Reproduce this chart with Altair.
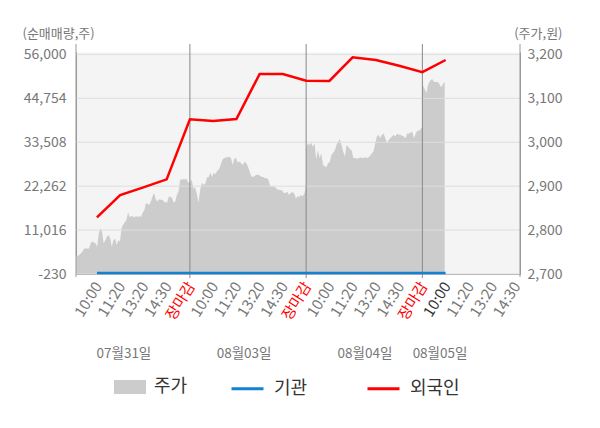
import json
import numpy as np
import pandas as pd
import altair as alt

FONT = "Noto Sans CJK KR"

# ---------------- data ----------------
x_labels = ["10:00", "11:20", "13:20", "14:30", "장마감",
            "10:00", "11:20", "13:20", "14:30", "장마감",
            "10:00", "11:20", "13:20", "14:30", "장마감",
            "10:00", "11:20", "13:20", "14:30"]
current_slot = 16
day_close_slots = [5, 10, 15]
dates = ["07월31일", "08월03일", "08월04일", "08월05일"]
date_slots = [2.16, 7.33, 12.53, 15.76]

left_ticks = [-230, 11016, 22262, 33508, 44754, 56000]
right_ticks = [2700, 2800, 2900, 3000, 3100, 3200]

flow_slots = [1, 2, 3, 4, 5, 6, 7, 8, 9, 10, 11, 12, 13, 14, 15, 16]
foreign = [14270, 19980, 21950, 24000, 39370, 38940, 39450, 50980,
           50980, 49260, 49190, 55260, 54570, 53100, 51450, 54570]
institution = [0, 0, 0, 0, 0, 0, 0, 0, 0, 0, 0, 0, 0, 0, 0, 0]

price_day1 = [2739, 2741, 2743, 2747, 2751, 2758, 2758, 2758, 2758, 2770, 2774, 2772,
              2770, 2762, 2793, 2804, 2796, 2770, 2777, 2785, 2789, 2781, 2762, 2777,
              2781, 2766, 2777, 2774, 2804, 2812, 2818, 2823, 2840, 2829, 2832, 2831,
              2829, 2832, 2829, 2832, 2830, 2840, 2846, 2861, 2860, 2857, 2865, 2876,
              2885, 2870, 2865, 2870, 2869, 2869, 2865, 2863, 2863, 2876, 2876, 2873,
              2863, 2865, 2880, 2888, 2914, 2916, 2916, 2916, 2916, 2907, 2912]
price_day2 = [2903, 2916, 2895, 2897, 2884, 2862, 2891, 2908, 2903, 2906, 2920, 2921,
              2931, 2921, 2931, 2927, 2935, 2938, 2948, 2960, 2964, 2965, 2966, 2967,
              2964, 2948, 2963, 2964, 2954, 2956, 2952, 2948, 2956, 2952, 2944, 2933,
              2922, 2921, 2924, 2926, 2926, 2924, 2921, 2921, 2918, 2918, 2914, 2900,
              2899, 2899, 2897, 2893, 2892, 2891, 2890, 2884, 2885, 2887, 2880, 2885,
              2886, 2884, 2872, 2877, 2876, 2880, 2877, 2884, 2899]
price_day3 = [2986, 2998, 2994, 2999, 2990, 2998, 2961, 2982, 2964, 2975, 2948, 2946,
              2943, 2952, 2955, 2971, 2976, 2982, 2994, 3001, 3007, 2994, 2979, 2967,
              2994, 2990, 2984, 2982, 2964, 2964, 2963, 2963, 2966, 2964, 2964, 2966,
              2964, 2966, 2969, 2975, 2979, 2998, 3013, 3017, 3009, 3017, 3020, 3009,
              2998, 3005, 3009, 3013, 3017, 3013, 3020, 3017, 3017, 3015, 3013, 3009,
              3020, 3020, 3022, 3024, 3009, 3020, 3026, 3026, 3030, 3034]
price_day4 = [3134, 3125, 3119, 3112, 3130, 3137, 3141, 3144, 3139, 3137, 3137, 3137,
              3134, 3127, 3127, 3134, 3137]
day_spans = [(0.1, 5.0), (5.0, 10.0), (10.0, 15.0), (15.0, 15.96)]

# ---------------- tables ----------------
rows = []
for vals, (a, b) in zip([price_day1, price_day2, price_day3, price_day4], day_spans):
    for s, v in zip(np.linspace(a, b, len(vals)), vals):
        rows.append({"slot": float(s), "price": v, "series": "주가"})
price_df = pd.DataFrame(rows)

flow_df = pd.concat([
    pd.DataFrame({"slot": flow_slots, "value": institution, "series": "기관"}),
    pd.DataFrame({"slot": flow_slots, "value": foreign, "series": "외국인"}),
])
grid_df = pd.DataFrame({"tick": left_ticks})
sep_df = pd.DataFrame({"slot": day_close_slots})
date_df = pd.DataFrame({"slot": date_slots, "label": dates})
X_MIN, X_MAX = 0.1, 19.2
edge_df = pd.DataFrame({"slot": [X_MIN, X_MAX]})

# ---------------- scales / axes ----------------
x_scale = alt.Scale(domain=[X_MIN, X_MAX], nice=False, zero=False)
label_expr = json.dumps(x_labels, ensure_ascii=False) + "[datum.value - 1]"
x_axis = alt.Axis(
    values=list(range(1, len(x_labels) + 1)), labelExpr=label_expr,
    labelAngle=-58, labelAlign="right", labelBaseline="middle",
    labelFontSize=15, labelPadding=9, labelOffset=1, labelOverlap=False,
    labelBound=False, ticks=False, grid=False, domainColor="#999999", title=None,
    labelColor={"condition": [
        {"test": "datum.value % 5 == 0", "value": "#ff0000"},
        {"test": f"datum.value == {current_slot}", "value": "#333333"}],
        "value": "#777777"},
)
left_scale = alt.Scale(domain=[-230, 56615], nice=False, zero=False)
right_scale = alt.Scale(domain=[2700, 3205.5], nice=False, zero=False)

num_expr = "replace(format(datum.value, ',d'), '\u2212', '-')"

left_axis = alt.Axis(
    orient="left", values=left_ticks, labelExpr=num_expr, grid=False, ticks=False,
    labelOverlap=False, domainColor="#999999", labelPadding=10, labelFontSize=14,
    labelColor="#777777",
    title="(순매매량,주)", titleAngle=0, titleAlign="left", titleBaseline="middle",
    titleX=-54, titleY=-19, titleFontSize=13, titleFontWeight="normal",
    titleColor="#777777")
right_axis = alt.Axis(
    orient="right", values=right_ticks, format=",d", grid=False, ticks=False,
    labelOverlap=False, domainColor="#999999", labelPadding=7, labelFontSize=14,
    labelColor="#777777",
    title="(주가,원)", titleAngle=0, titleAlign="right", titleBaseline="middle",
    titleX=42, titleY=-19, titleFontSize=13, titleFontWeight="normal",
    titleColor="#777777")

# ---------------- layers ----------------
area = alt.Chart(price_df).mark_area(opacity=1).encode(
    x=alt.X("slot:Q", scale=x_scale, axis=x_axis),
    y=alt.Y("price:Q", scale=right_scale, axis=right_axis),
    y2=alt.datum(2700),
    fill=alt.Fill("series:N", scale=alt.Scale(domain=["주가"], range=["#cccccc"]),
                  legend=alt.Legend(orient="none", legendX=38, legendY=319, title=None,
                                    padding=0, symbolType="M-1,-0.44H1V0.44H-1Z",
                                    symbolSize=1024, symbolStrokeWidth=0, symbolOpacity=1,
                                    labelFontSize=18, labelColor="#333333", labelOffset=8)),
)

grid = alt.Chart(grid_df).mark_rule(color="#dedede", strokeWidth=1).encode(
    y=alt.Y("tick:Q", scale=left_scale, axis=left_axis),
)

seps = alt.Chart(sep_df).mark_rule(color="#888888", strokeWidth=1).encode(
    x=alt.X("slot:Q", scale=x_scale, axis=x_axis),
    y=alt.value(-8), y2=alt.value(226),
)
edges = alt.Chart(edge_df).mark_rule(color="#999999", strokeWidth=1).encode(
    x=alt.X("slot:Q", scale=x_scale, axis=x_axis),
    y=alt.value(-8), y2=alt.value(225),
)

lines = alt.Chart(flow_df).mark_line(strokeWidth=2.5).encode(
    x=alt.X("slot:Q", scale=x_scale, axis=x_axis),
    y=alt.Y("value:Q", scale=left_scale, axis=left_axis),
    stroke=alt.Stroke("series:N",
                      scale=alt.Scale(domain=["기관", "외국인"], range=["#1581d1", "#ff0000"]),
                      legend=alt.Legend(orient="none", legendX=154, legendY=319, title=None,
                                        padding=0, direction="horizontal",
                                        symbolType="stroke", symbolSize=1024,
                                        symbolStrokeWidth=3, labelFontSize=18,
                                        labelColor="#333333", labelOffset=9,
                                        columnPadding=53)),
)

date_text = alt.Chart(date_df).mark_text(fontSize=13.5, color="#777777").encode(
    x=alt.X("slot:Q", scale=x_scale, axis=x_axis),
    y=alt.value(302),
    text="label:N",
)

left_layer = alt.layer(grid, seps, edges, lines, date_text)

chart = alt.layer(area, left_layer).resolve_scale(y="independent").properties(
    width=444, height=222,
    autosize=alt.AutoSizeParams(type="none"),
    padding={"left": 68, "top": 44, "right": 72, "bottom": 146},
).configure(font=FONT).configure_view(fill="#f4f4f4", stroke="transparent")

chart.save("out.html", embed_options={"renderer": "svg", "actions": False})
